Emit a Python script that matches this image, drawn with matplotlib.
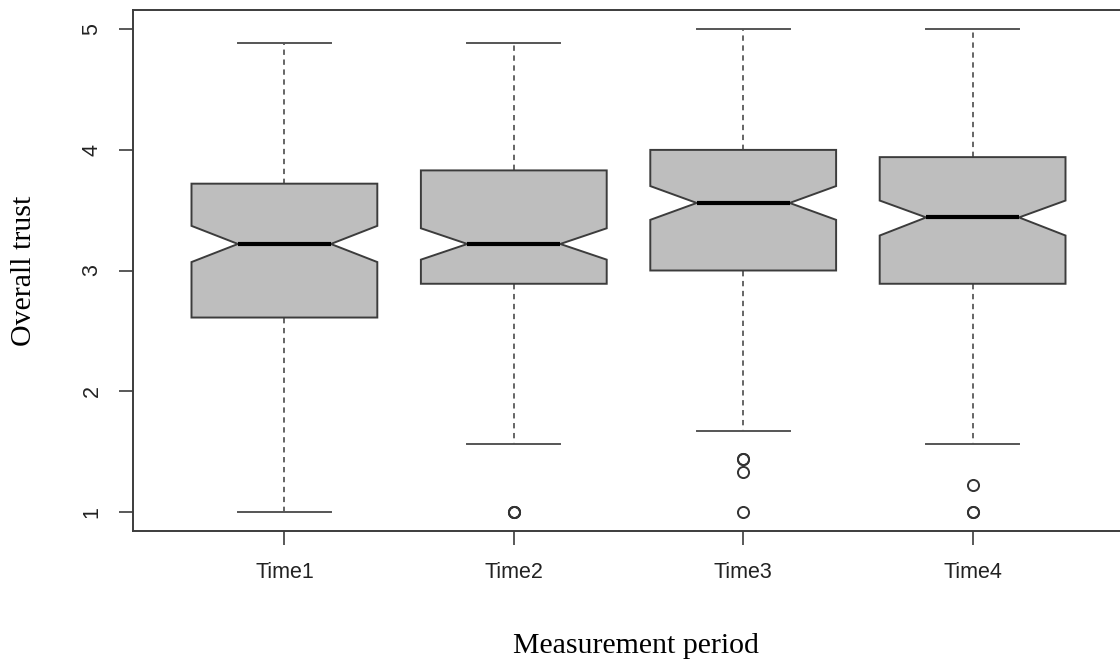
import matplotlib
matplotlib.use('Agg')
import matplotlib.pyplot as plt

labels = ['Time1', 'Time2', 'Time3', 'Time4']
whis_lo = [1.00, 1.56, 1.67, 1.56]
q1 = [2.61, 2.89, 3.00, 2.89]
med = [3.22, 3.22, 3.56, 3.44]
q3 = [3.72, 3.83, 4.00, 3.94]
whis_hi = [4.89, 4.89, 5.00, 5.00]
ci_lo = [3.07, 3.09, 3.42, 3.29]
ci_hi = [3.37, 3.35, 3.70, 3.58]
outliers = [[], [1.0, 1.0, 1.0], [1.44, 1.44, 1.33, 1.0], [1.22, 1.0, 1.0]]
yticks = [1, 2, 3, 4, 5]

stats = []
for i, lab in enumerate(labels):
    stats.append(dict(label=lab, whislo=whis_lo[i], q1=q1[i], med=med[i], q3=q3[i],
                      whishi=whis_hi[i], cilo=ci_lo[i], cihi=ci_hi[i],
                      fliers=outliers[i]))

fig = plt.figure(figsize=(11.2, 6.62), dpi=100)
W, H = 1120, 662
ax = fig.add_axes([133 / W, (H - 531) / H, (1124 - 133) / W, (531 - 10) / H])

edge = '#3c3c3c'
ax.bxp(stats, positions=[1, 2, 3, 4], widths=0.81, shownotches=True, patch_artist=True,
       boxprops=dict(facecolor='#bebebe', edgecolor=edge, linewidth=1.4),
       medianprops=dict(color='black', linewidth=3.0, solid_capstyle='butt'),
       whiskerprops=dict(color=edge, linewidth=1.1, linestyle=(0, (3.5, 3))),
       capprops=dict(color='#555555', linewidth=1.4),
       flierprops=dict(marker='o', markerfacecolor='none', markeredgecolor='#333333',
                       markersize=8, markeredgewidth=1.4))

ax.set_xlim(0.34, 4.66)
ax.set_ylim(0.84, 5.16)
ax.set_yticks(yticks)
ax.set_yticklabels([str(v) for v in yticks], rotation=90, va='center',
                   fontfamily='Liberation Sans', fontsize=15.5, color='#222222')
ax.set_xticks([1, 2, 3, 4])
ax.set_xticklabels(labels, fontfamily='Liberation Sans', fontsize=15.5, color='#222222')
ax.tick_params(axis='both', length=10, width=1.2, color=edge, pad=12)
for s in ax.spines.values():
    s.set_color(edge)
    s.set_linewidth(1.4)

fig.text(24 / W, 1 - 271 / H, 'Overall trust', rotation=90, ha='center', va='center',
         fontfamily='Liberation Serif', fontsize=21.5, color='black')
fig.text(636 / W, (H - 653) / H, 'Measurement period', ha='center', va='baseline',
         fontfamily='Liberation Serif', fontsize=21.5, color='black')

fig.savefig('out.png', dpi=100)
